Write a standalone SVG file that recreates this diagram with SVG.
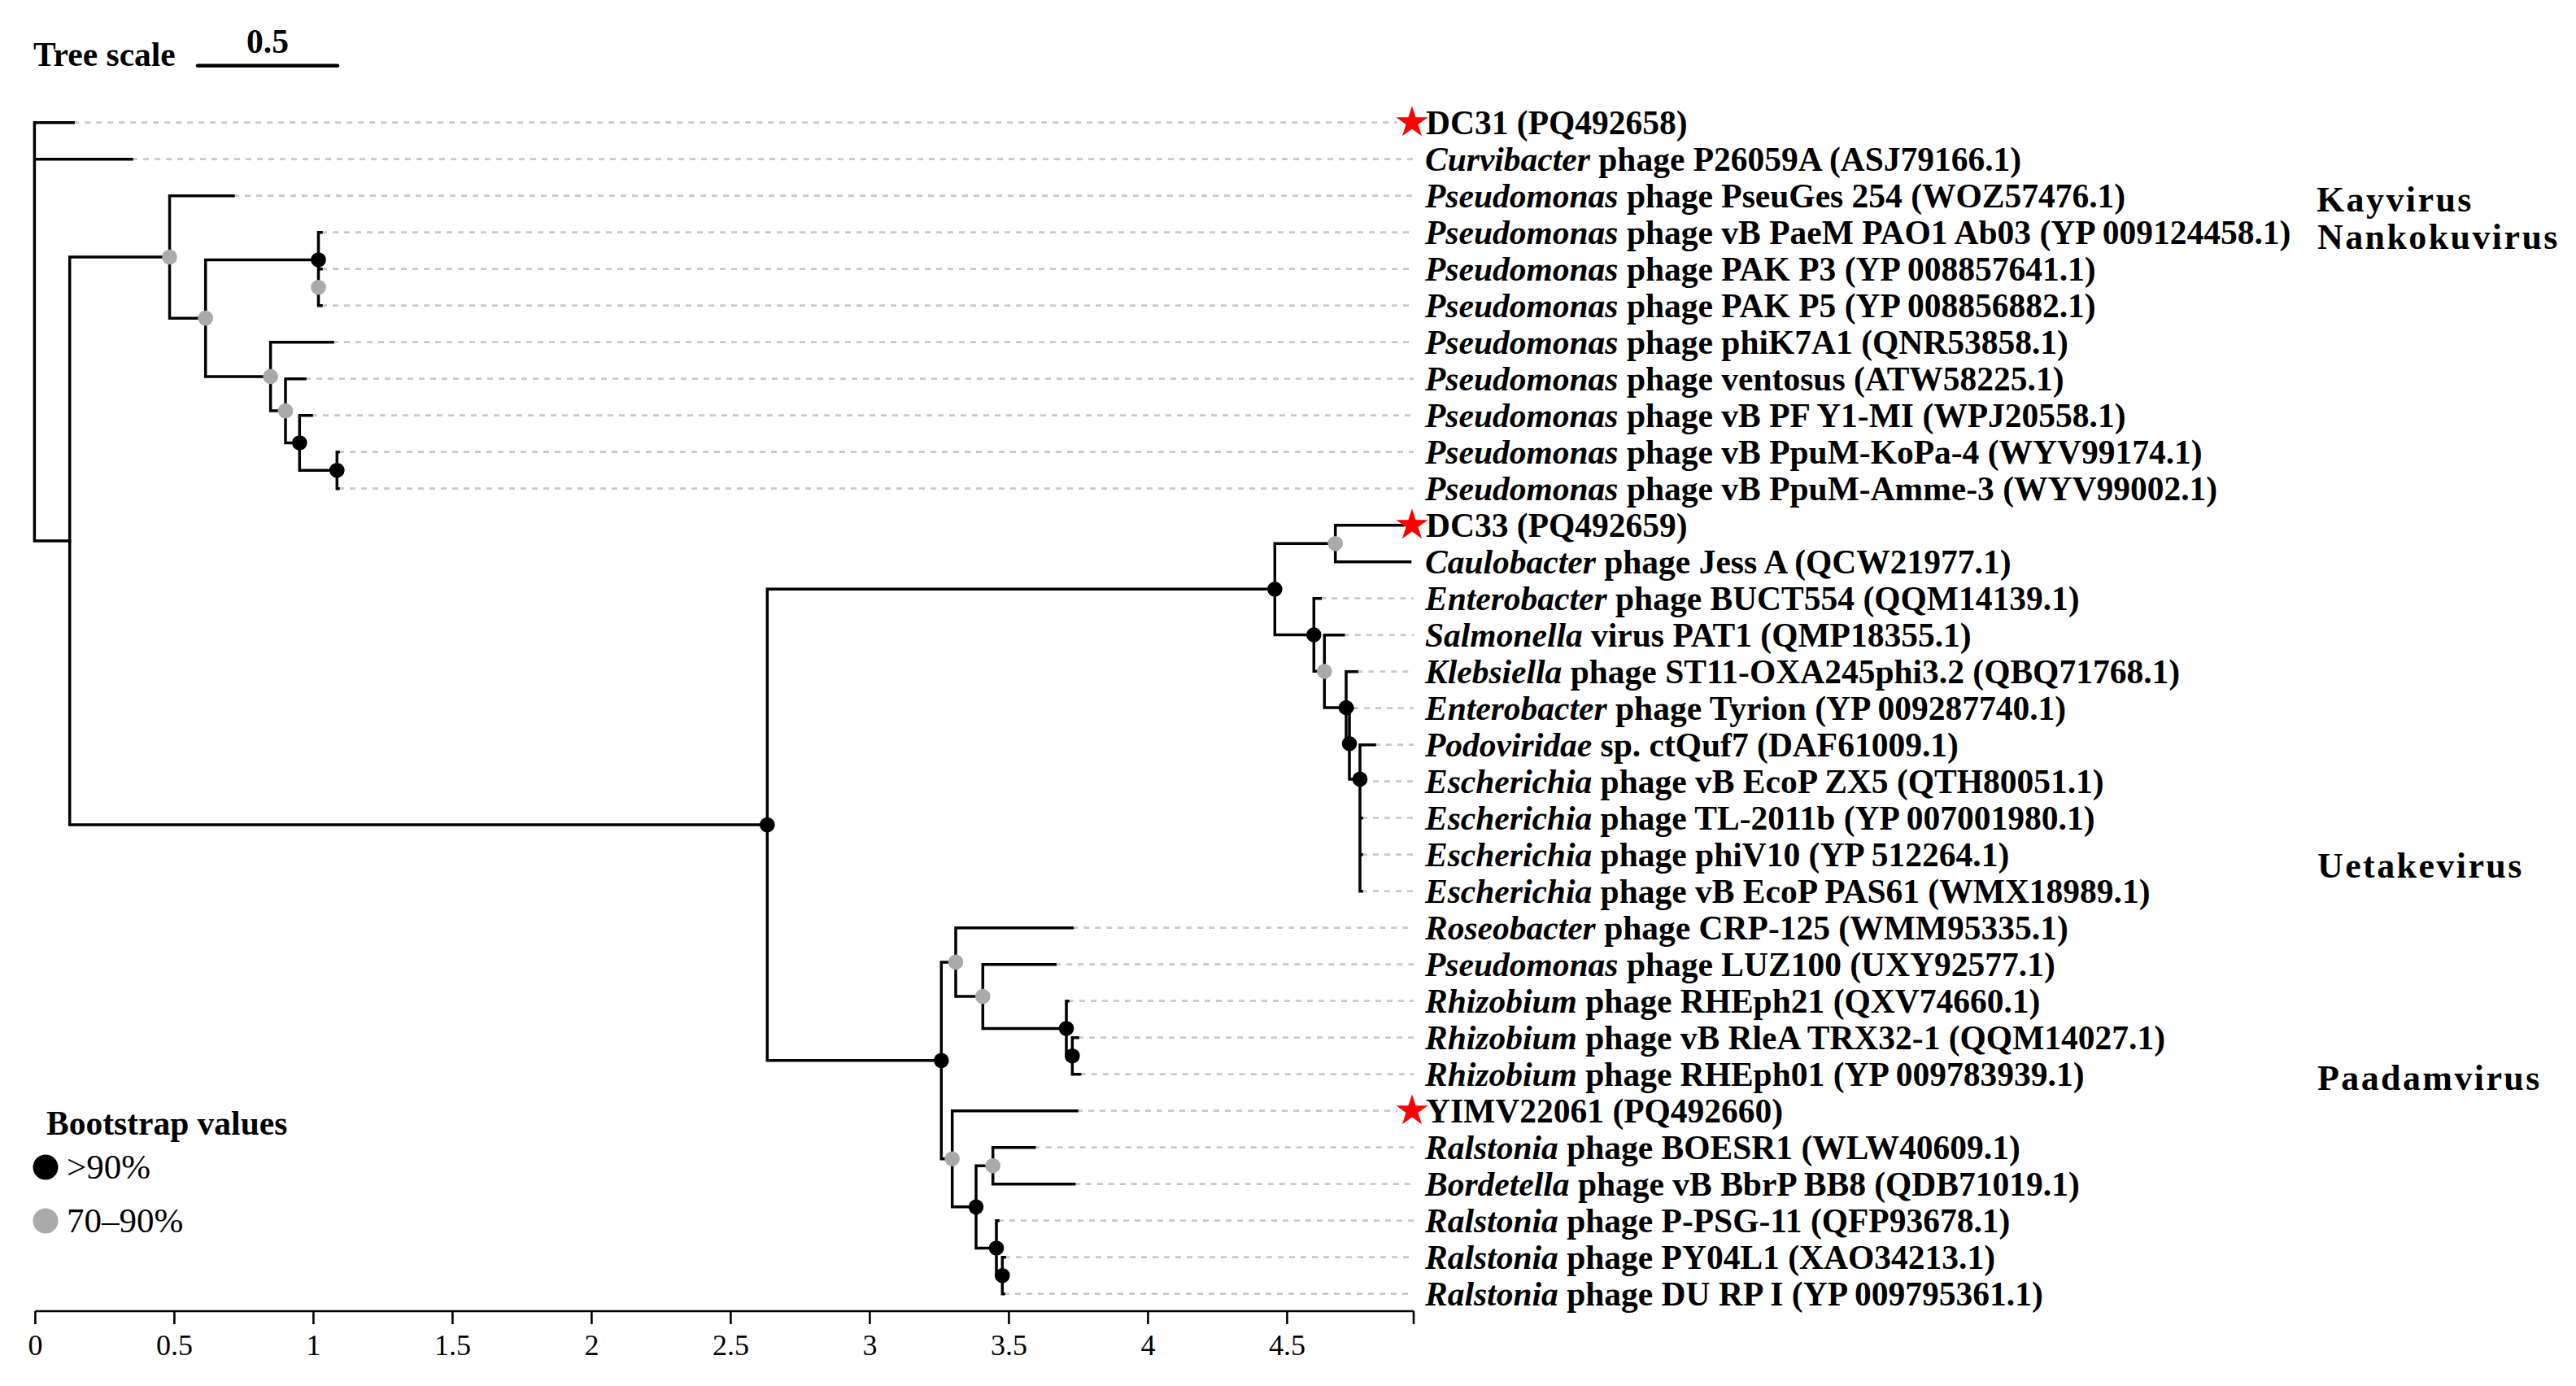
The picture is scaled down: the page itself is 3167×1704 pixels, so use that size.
<svg xmlns="http://www.w3.org/2000/svg" width="3167" height="1704" viewBox="0 0 3167 1704">
<defs>
<style>
.br{fill:none;stroke:#000;stroke-width:3.5;stroke-linecap:square}
.dash{fill:none;stroke:#c8c8c8;stroke-width:2.8;stroke-dasharray:7 7}
.lab{font-family:"Liberation Serif","Times New Roman",serif;font-weight:bold;font-size:41.5px;fill:#000}
.it{font-style:italic}
.grp{font-family:"Liberation Serif","Times New Roman",serif;font-weight:bold;font-size:44px;letter-spacing:2.4px;fill:#000}
.tick{font-family:"Liberation Serif","Times New Roman",serif;font-size:36px;fill:#000;text-anchor:middle}
.leg{font-family:"Liberation Serif","Times New Roman",serif;font-size:43px;fill:#000}
.bk{fill:#000}
.gy{fill:#aaaaaa}
.axis{fill:none;stroke:#000;stroke-width:2.6}
</style>
<path id="star" d="M0,-20.5 L4.6,-6.33 L19.5,-6.33 L7.45,2.42 L12.05,16.58 L0,7.83 L-12.05,16.58 L-7.45,2.42 L-19.5,-6.33 L-4.6,-6.33 Z" fill="#ff0000"/>
</defs>
<rect width="3167" height="1704" fill="#fff"/>

<g id="tree-scale">
<text class="lab" x="41" y="80.7">Tree scale</text>
<line x1="243" y1="80.7" x2="415" y2="80.7" stroke="#000" stroke-width="4.5" stroke-linecap="round"/>
<text class="lab" x="329" y="65" text-anchor="middle">0.5</text>
</g>

<g id="connectors">
<g id="dashes">
<path class="dash" d="M90.2 150.7H1718M162 195.7H1738M287 240.7H1738M395 285.7H1738M395 330.7H1738M395 375.7H1738M409 420.7H1738M375 465.7H1738M383 510.7H1738M416 555.7H1738M416 600.7H1738M1623.3 735.7H1738M1651.7 780.7H1738M1668.3 825.7H1738M1663 870.7H1738M1690 915.7H1738M1674 960.7H1738M1674 1005.7H1738M1674 1050.7H1738M1674 1095.7H1738M1318.3 1140.7H1738M1297.3 1185.7H1738M1313 1230.7H1738M1325 1275.7H1738M1327.7 1320.7H1738M1324 1365.7H1718M1271.7 1410.7H1738M1320.7 1455.7H1738M1227 1500.7H1738M1235 1545.7H1738M1234 1590.7H1738"/>
</g>
<g id="branches">
<path class="br" d="M42.4 150.7V665M42.4 150.7H90.2M42.4 195.7H162M42.4 665H85.7"/>
<path class="br" d="M85.7 315.94V1014.09M85.7 315.94H208.5M85.7 1014.09H943.3"/>
<path class="br" d="M208.5 240.7V391.17M208.5 240.7H287M208.5 391.17H252.7"/>
<path class="br" d="M252.7 319.45V462.89M252.7 319.45H391.5M252.7 462.89H332.6"/>
<path class="br" d="M391.5 285.7V375.7M391.5 285.7H395M391.5 330.7H395M391.5 375.7H395"/>
<path class="br" d="M332.6 420.7V505.08M332.6 420.7H409M332.6 505.08H351"/>
<path class="br" d="M351 465.7V544.45M351 465.7H375M351 544.45H368.3"/>
<path class="br" d="M368.3 510.7V578.2M368.3 510.7H383M368.3 578.2H414.3"/>
<path class="br" d="M414.3 555.7V600.7M414.3 555.7H416M414.3 600.7H416"/>
<path class="br" d="M943.3 724.35V1303.83M943.3 724.35H1567.3M943.3 1303.83H1157.3"/>
<path class="br" d="M1567.3 668.2V780.5M1567.3 668.2H1641.7M1567.3 780.5H1615.3"/>
<path class="br" d="M1641.7 645.7V690.7M1641.7 645.7H1725M1641.7 690.7H1733.6"/>
<path class="br" d="M1615.3 735.7V825.35M1615.3 735.7H1623.3M1615.3 825.35H1628.3"/>
<path class="br" d="M1628.3 780.7V870M1628.3 780.7H1651.7M1628.3 870H1655"/>
<path class="br" d="M1655 825.7V914.29M1655 825.7H1668.3M1655 914.29H1659"/>
<path class="br" d="M1659 870.7V957.89M1659 870.7H1663M1659 957.89H1672"/>
<path class="br" d="M1672 915.7V1095.7M1672 915.7H1690M1672 960.7H1674M1672 1005.7H1674M1672 1050.7H1674M1672 1095.7H1674"/>
<path class="br" d="M1157.3 1182.89V1424.76M1157.3 1182.89H1175M1157.3 1424.76H1170.7"/>
<path class="br" d="M1175 1140.7V1225.08M1175 1140.7H1318.3M1175 1225.08H1208.3"/>
<path class="br" d="M1208.3 1185.7V1264.45M1208.3 1185.7H1297.3M1208.3 1264.45H1311"/>
<path class="br" d="M1311 1230.7V1298.2M1311 1230.7H1313M1311 1298.2H1318.3"/>
<path class="br" d="M1318.3 1275.7V1320.7M1318.3 1275.7H1325M1318.3 1320.7H1327.7"/>
<path class="br" d="M1170.7 1365.7V1483.83M1170.7 1365.7H1324M1170.7 1483.83H1200"/>
<path class="br" d="M1200 1433.2V1534.45M1200 1433.2H1220.7M1200 1534.45H1225"/>
<path class="br" d="M1220.7 1410.7V1455.7M1220.7 1410.7H1271.7M1220.7 1455.7H1320.7"/>
<path class="br" d="M1225 1500.7V1568.2M1225 1500.7H1227M1225 1568.2H1232.3"/>
<path class="br" d="M1232.3 1545.7V1590.7M1232.3 1545.7H1235M1232.3 1590.7H1234"/>
</g>
</g>

<g id="bootstrap-symbols">
<circle class="gy" cx="208.5" cy="315.94" r="9.3"/>
<circle class="gy" cx="252.7" cy="391.17" r="9.3"/>
<circle class="bk" cx="391.5" cy="319.45" r="9.3"/>
<circle class="gy" cx="391.5" cy="353.2" r="9.3"/>
<circle class="gy" cx="332.6" cy="462.89" r="9.3"/>
<circle class="gy" cx="351" cy="505.08" r="9.3"/>
<circle class="bk" cx="368.3" cy="544.45" r="9.3"/>
<circle class="bk" cx="414.3" cy="578.2" r="9.3"/>
<circle class="bk" cx="943.3" cy="1014.09" r="9.3"/>
<circle class="bk" cx="1567.3" cy="724.35" r="9.3"/>
<circle class="gy" cx="1641.7" cy="668.2" r="9.3"/>
<circle class="bk" cx="1615.3" cy="780.5" r="9.3"/>
<circle class="gy" cx="1628.3" cy="825.35" r="9.3"/>
<circle class="bk" cx="1655" cy="870" r="9.3"/>
<circle class="bk" cx="1659" cy="914.29" r="9.3"/>
<circle class="bk" cx="1672" cy="957.89" r="9.3"/>
<circle class="bk" cx="1157.3" cy="1303.83" r="9.3"/>
<circle class="gy" cx="1175" cy="1182.89" r="9.3"/>
<circle class="gy" cx="1208.3" cy="1225.08" r="9.3"/>
<circle class="bk" cx="1311" cy="1264.45" r="9.3"/>
<circle class="bk" cx="1318.3" cy="1298.2" r="9.3"/>
<circle class="gy" cx="1170.7" cy="1424.76" r="9.3"/>
<circle class="bk" cx="1200" cy="1483.83" r="9.3"/>
<circle class="gy" cx="1220.7" cy="1433.2" r="9.3"/>
<circle class="bk" cx="1225" cy="1534.45" r="9.3"/>
<circle class="bk" cx="1232.3" cy="1568.2" r="9.3"/>
</g>

<g id="leaves">
<g id="leaf-DC31"><use href="#star" x="1736" y="150.7"/><text class="lab" x="1753" y="165.2">DC31 (PQ492658)</text></g>
<g id="leaf-Curvibacter"><text class="lab" x="1752" y="210.2"><tspan class="it">Curvibacter</tspan> phage P26059A (ASJ79166.1)</text></g>
<g id="leaf-PseuGes"><text class="lab" x="1752" y="255.2"><tspan class="it">Pseudomonas</tspan> phage PseuGes 254 (WOZ57476.1)</text></g>
<g id="leaf-PAO1"><text class="lab" x="1752" y="300.2"><tspan class="it">Pseudomonas</tspan> phage vB PaeM PAO1 Ab03 (YP 009124458.1)</text></g>
<g id="leaf-PAKP3"><text class="lab" x="1752" y="345.2"><tspan class="it">Pseudomonas</tspan> phage PAK P3 (YP 008857641.1)</text></g>
<g id="leaf-PAKP5"><text class="lab" x="1752" y="390.2"><tspan class="it">Pseudomonas</tspan> phage PAK P5 (YP 008856882.1)</text></g>
<g id="leaf-phiK7A1"><text class="lab" x="1752" y="435.2"><tspan class="it">Pseudomonas</tspan> phage phiK7A1 (QNR53858.1)</text></g>
<g id="leaf-ventosus"><text class="lab" x="1752" y="480.2"><tspan class="it">Pseudomonas</tspan> phage ventosus (ATW58225.1)</text></g>
<g id="leaf-Y1MI"><text class="lab" x="1752" y="525.2"><tspan class="it">Pseudomonas</tspan> phage vB PF Y1-MI (WPJ20558.1)</text></g>
<g id="leaf-KoPa4"><text class="lab" x="1752" y="570.2"><tspan class="it">Pseudomonas</tspan> phage vB PpuM-KoPa-4 (WYV99174.1)</text></g>
<g id="leaf-Amme3"><text class="lab" x="1752" y="615.2"><tspan class="it">Pseudomonas</tspan> phage vB PpuM-Amme-3 (WYV99002.1)</text></g>
<g id="leaf-DC33"><use href="#star" x="1736" y="645.7"/><text class="lab" x="1753" y="660.2">DC33 (PQ492659)</text></g>
<g id="leaf-JessA"><text class="lab" x="1752" y="705.2"><tspan class="it">Caulobacter</tspan> phage Jess A (QCW21977.1)</text></g>
<g id="leaf-BUCT554"><text class="lab" x="1752" y="750.2"><tspan class="it">Enterobacter</tspan> phage BUCT554 (QQM14139.1)</text></g>
<g id="leaf-PAT1"><text class="lab" x="1752" y="795.2"><tspan class="it">Salmonella</tspan> virus PAT1 (QMP18355.1)</text></g>
<g id="leaf-ST11"><text class="lab" x="1752" y="840.2"><tspan class="it">Klebsiella</tspan> phage ST11-OXA245phi3.2 (QBQ71768.1)</text></g>
<g id="leaf-Tyrion"><text class="lab" x="1752" y="885.2"><tspan class="it">Enterobacter</tspan> phage Tyrion (YP 009287740.1)</text></g>
<g id="leaf-ctQuf7"><text class="lab" x="1752" y="930.2"><tspan class="it">Podoviridae</tspan> sp. ctQuf7 (DAF61009.1)</text></g>
<g id="leaf-ZX5"><text class="lab" x="1752" y="975.2"><tspan class="it">Escherichia</tspan> phage vB EcoP ZX5 (QTH80051.1)</text></g>
<g id="leaf-TL2011b"><text class="lab" x="1752" y="1020.2"><tspan class="it">Escherichia</tspan> phage TL-2011b (YP 007001980.1)</text></g>
<g id="leaf-phiV10"><text class="lab" x="1752" y="1065.2"><tspan class="it">Escherichia</tspan> phage phiV10 (YP 512264.1)</text></g>
<g id="leaf-PAS61"><text class="lab" x="1752" y="1110.2"><tspan class="it">Escherichia</tspan> phage vB EcoP PAS61 (WMX18989.1)</text></g>
<g id="leaf-CRP125"><text class="lab" x="1752" y="1155.2"><tspan class="it">Roseobacter</tspan> phage CRP-125 (WMM95335.1)</text></g>
<g id="leaf-LUZ100"><text class="lab" x="1752" y="1200.2"><tspan class="it">Pseudomonas</tspan> phage LUZ100 (UXY92577.1)</text></g>
<g id="leaf-RHEph21"><text class="lab" x="1752" y="1245.2"><tspan class="it">Rhizobium</tspan> phage RHEph21 (QXV74660.1)</text></g>
<g id="leaf-TRX32"><text class="lab" x="1752" y="1290.2"><tspan class="it">Rhizobium</tspan> phage vB RleA TRX32-1 (QQM14027.1)</text></g>
<g id="leaf-RHEph01"><text class="lab" x="1752" y="1335.2"><tspan class="it">Rhizobium</tspan> phage RHEph01 (YP 009783939.1)</text></g>
<g id="leaf-YIMV22061"><use href="#star" x="1736" y="1365.7"/><text class="lab" x="1753" y="1380.2">YIMV22061 (PQ492660)</text></g>
<g id="leaf-BOESR1"><text class="lab" x="1752" y="1425.2"><tspan class="it">Ralstonia</tspan> phage BOESR1 (WLW40609.1)</text></g>
<g id="leaf-BB8"><text class="lab" x="1752" y="1470.2"><tspan class="it">Bordetella</tspan> phage vB BbrP BB8 (QDB71019.1)</text></g>
<g id="leaf-PPSG11"><text class="lab" x="1752" y="1515.2"><tspan class="it">Ralstonia</tspan> phage P-PSG-11 (QFP93678.1)</text></g>
<g id="leaf-PY04L1"><text class="lab" x="1752" y="1560.2"><tspan class="it">Ralstonia</tspan> phage PY04L1 (XAO34213.1)</text></g>
<g id="leaf-DURPI"><text class="lab" x="1752" y="1605.2"><tspan class="it">Ralstonia</tspan> phage DU RP I (YP 009795361.1)</text></g>
</g>

<g id="genus-labels">
<text class="grp" x="2848" y="260">Kayvirus</text>
<text class="grp" x="2849" y="306">Nankokuvirus</text>
<text class="grp" x="2849" y="1079">Uetakevirus</text>
<text class="grp" x="2849" y="1340">Paadamvirus</text>
</g>

<g id="legend">
<text class="lab" x="57" y="1395">Bootstrap values</text>
<circle class="bk" cx="56" cy="1435" r="15.5"/>
<text class="leg" x="82" y="1449">&gt;90%</text>
<circle class="gy" cx="56" cy="1501" r="15.5"/>
<text class="leg" x="82" y="1515">70–90%</text>
</g>

<g id="x-axis">
<path class="axis" d="M43.4 1612H1738M43.4 1612V1628M214.4 1612V1628M385.4 1612V1628M556.4 1612V1628M727.4 1612V1628M898.4 1612V1628M1069.4 1612V1628M1240.4 1612V1628M1411.4 1612V1628M1582.4 1612V1628M1738 1612V1628"/>
<text class="tick" x="43.4" y="1666">0</text>
<text class="tick" x="214.4" y="1666">0.5</text>
<text class="tick" x="385.4" y="1666">1</text>
<text class="tick" x="556.4" y="1666">1.5</text>
<text class="tick" x="727.4" y="1666">2</text>
<text class="tick" x="898.4" y="1666">2.5</text>
<text class="tick" x="1069.4" y="1666">3</text>
<text class="tick" x="1240.4" y="1666">3.5</text>
<text class="tick" x="1411.4" y="1666">4</text>
<text class="tick" x="1582.4" y="1666">4.5</text>
</g>
</svg>
